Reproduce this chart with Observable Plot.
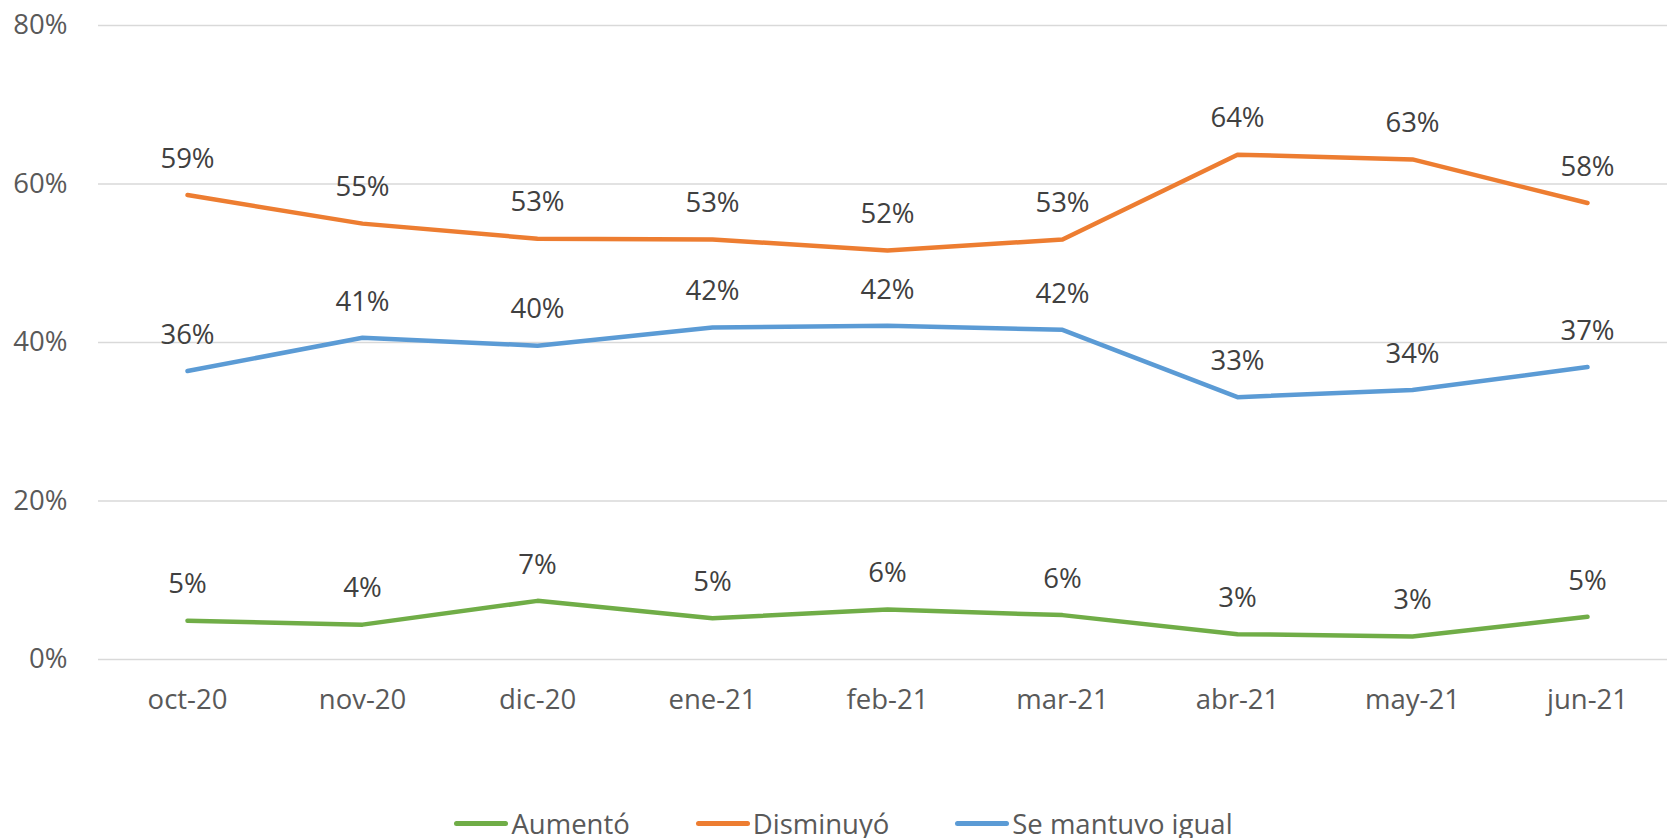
<!DOCTYPE html>
<html>
<head>
<meta charset="utf-8">
<script src="https://cdn.jsdelivr.net/npm/d3@7"></script>
<script src="https://cdn.jsdelivr.net/npm/@observablehq/plot@0.6"></script>
<style>
  html, body { margin: 0; padding: 0; background: #fff; }
  #legend { height: 46px; display: flex; justify-content: center; align-items: center; gap: 66px;
    font-family: "Open Sans", sans-serif; font-size: 27.5px; color: #595959; padding-left: 20px; }
  .item { display: flex; align-items: center; }
  .sw { width: 54px; height: 5px; border-radius: 3px; margin-right: 3px; }
</style>
</head>
<body>
<div id="chart"></div>
<div id="legend"></div>
<script>
const months = ["oct-20","nov-20","dic-20","ene-21","feb-21","mar-21","abr-21","may-21","jun-21"];
const seriesNames = ["Aumentó","Disminuyó","Se mantuvo igual"];
const colors = ["#70AD47","#ED7D31","#5B9BD5"];
const aumento = [0.049,0.044,0.074,0.052,0.063,0.056,0.032,0.029,0.054];
const disminuyo = [0.586,0.550,0.531,0.530,0.516,0.530,0.637,0.631,0.576];
const igual = [0.364,0.406,0.396,0.419,0.421,0.416,0.331,0.340,0.369];
const yTicks = [0,0.2,0.4,0.6,0.8];

const allSeries = [aumento, disminuyo, igual];
const data = [];
allSeries.forEach((vals, s) => vals.forEach((v, i) => data.push({month: months[i], series: seriesNames[s], value: v})));

const fmt = d3.format(".0%");
const chart = Plot.plot({
  width: 1667,
  height: 800,
  marginLeft: 98,
  marginRight: 0,
  marginTop: 25,
  marginBottom: 141,
  style: {fontFamily: "Open Sans, sans-serif", fontSize: "27.5px", background: "#fff"},
  x: {type: "point", domain: months, range: [185, 1589], padding: 0},
  y: {domain: [0, 0.8]},
  color: {domain: seriesNames, range: colors},
  marks: [
    Plot.ruleY(yTicks, {stroke: "#d9d9d9", strokeWidth: 1.5}),
    Plot.axisY({ticks: yTicks, tickFormat: fmt, tickSize: 0, tickPadding: 31, fill: "#595959", label: null}),
    Plot.axisX({tickSize: 0, tickPadding: 30, fill: "#595959", label: null}),
    Plot.line(data, {x: "month", y: "value", z: "series", stroke: "series", strokeWidth: 4.5, strokeLinecap: "round", strokeLinejoin: "round"}),
    Plot.text(data, {x: "month", y: "value", text: d => fmt(d.value), dy: -36, fill: "#404040", textAnchor: "middle", lineAnchor: "middle"})
  ]
});
document.getElementById("chart").appendChild(chart);

const legend = document.getElementById("legend");
seriesNames.forEach((name, i) => {
  const it = document.createElement("div");
  it.className = "item";
  const sw = document.createElement("span");
  sw.className = "sw";
  sw.style.background = colors[i];
  const t = document.createElement("span");
  t.textContent = name;
  it.appendChild(sw); it.appendChild(t);
  legend.appendChild(it);
});
</script>
</body>
</html>
